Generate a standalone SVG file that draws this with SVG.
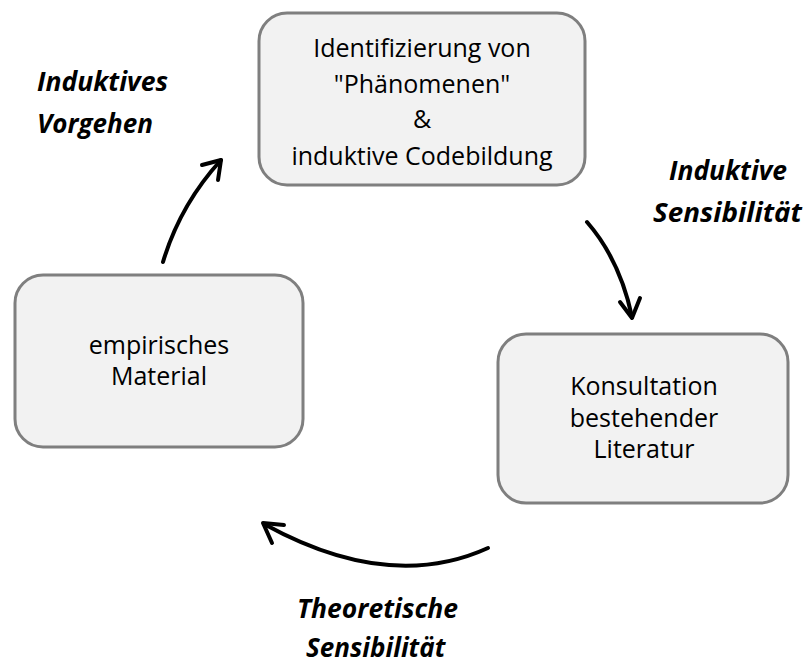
<svg xmlns="http://www.w3.org/2000/svg" width="804" height="666" viewBox="0 0 804 666">
  <style>
    .box { fill: #f2f2f2; stroke: #7f7f7f; stroke-width: 3; }
    .node-text { font-family: "Open Sans", "Noto Sans", sans-serif; font-size: 25px; fill: #000; text-anchor: middle; }
    .label { font-family: "Open Sans", "Noto Sans", sans-serif; font-size: 26px; font-weight: bold; font-style: italic; fill: #000; }
    .arrow { fill: none; stroke: #000; stroke-width: 4; stroke-linecap: round; stroke-linejoin: round; }
  </style>
  <rect width="804" height="666" fill="#ffffff"/>

  <g id="node-phaenomene">
    <rect class="box" x="259" y="13" width="326" height="172" rx="28"/>
    <text class="node-text" x="422" y="57">Identifizierung von</text>
    <text class="node-text" x="422" y="93">"Phänomenen"</text>
    <text class="node-text" x="422" y="128">&amp;</text>
    <text class="node-text" x="422" y="165">induktive Codebildung</text>
  </g>

  <g id="node-material">
    <rect class="box" x="15" y="275" width="288" height="172" rx="28"/>
    <text class="node-text" x="159" y="354">empirisches</text>
    <text class="node-text" x="159" y="385">Material</text>
  </g>

  <g id="node-literatur">
    <rect class="box" x="498" y="334" width="290" height="169" rx="28"/>
    <text class="node-text" x="644" y="395">Konsultation</text>
    <text class="node-text" x="644" y="427">bestehender</text>
    <text class="node-text" x="644" y="458">Literatur</text>
  </g>

  <g id="connectors">
    <path class="arrow" d="M163,262 Q180,205 221,160"/>
    <polyline class="arrow" points="202,165 221,160 218,180"/>
    <path class="arrow" d="M587,222 Q620,260 632,317"/>
    <polyline class="arrow" points="620,302 632,318 640,298"/>
    <path class="arrow" d="M488,548 Q389,593 264,524"/>
    <polyline class="arrow" points="284,525 263,523 272,543"/>
  </g>

  <g id="labels">
    <text class="label" x="37" y="91" textLength="131" lengthAdjust="spacingAndGlyphs">Induktives</text>
    <text class="label" x="37" y="133">Vorgehen</text>
    <text class="label" x="669" y="180" textLength="118" lengthAdjust="spacingAndGlyphs">Induktive</text>
    <text class="label" x="653" y="222" textLength="149" lengthAdjust="spacingAndGlyphs">Sensibilität</text>
    <text class="label" x="297" y="618" textLength="161" lengthAdjust="spacingAndGlyphs">Theoretische</text>
    <text class="label" x="306" y="657">Sensibilität</text>
  </g>
</svg>
